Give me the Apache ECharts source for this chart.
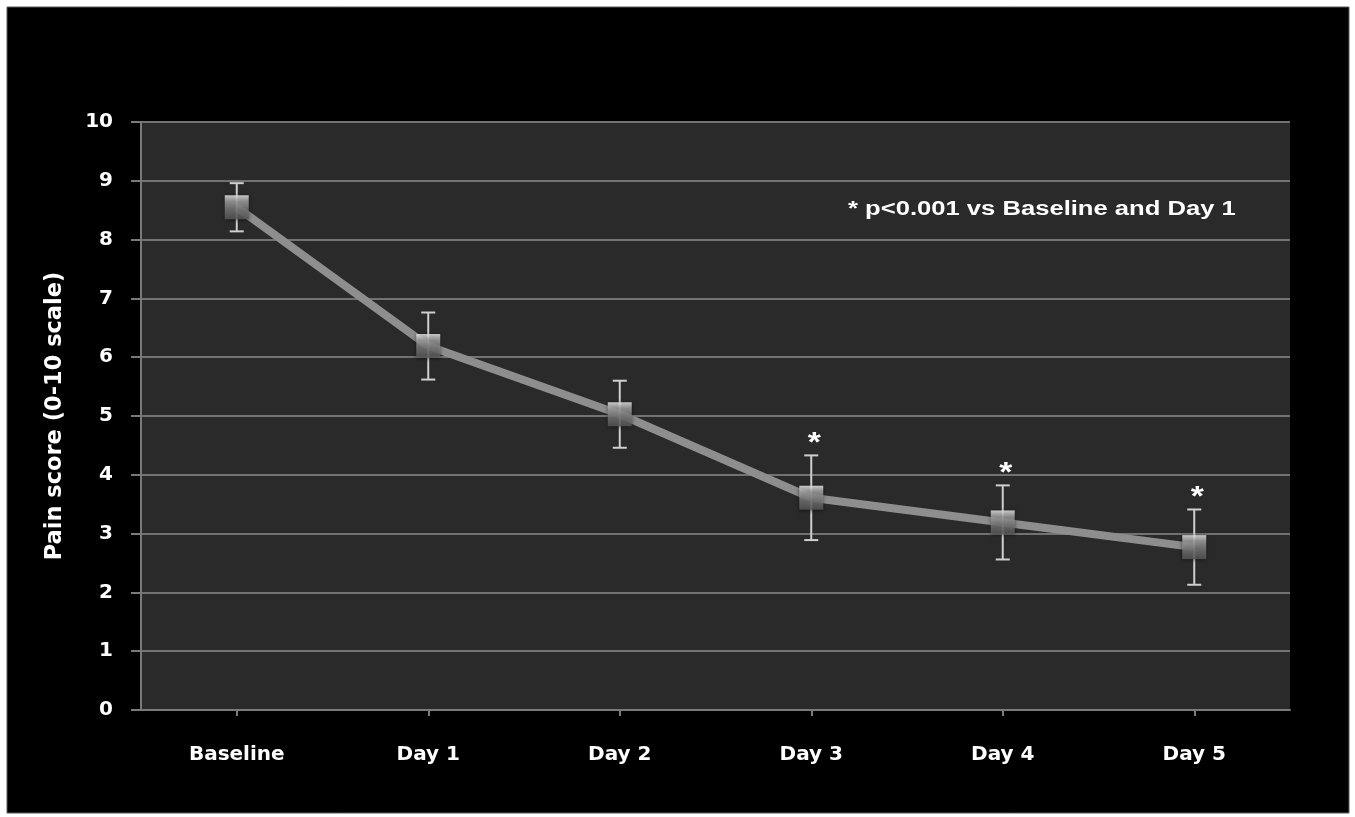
<!DOCTYPE html>
<html>
<head>
<meta charset="utf-8">
<title>Pain score over time</title>
<script src="https://cdn.jsdelivr.net/npm/echarts@6/dist/echarts.min.js"></script>
<style>
  html, body { margin: 0; padding: 0; background: #ffffff; }
  #chart { width: 1355px; height: 817px; }
</style>
</head>
<body>
<div id="chart"></div>
<script>
// Time points
const categories = ['Baseline', 'Day 1', 'Day 2', 'Day 3', 'Day 4', 'Day 5'];
// Mean pain score (0-10 scale)
const meanScores = [8.55, 6.19, 5.03, 3.61, 3.19, 2.77];
// Error bar half-length
const errors = [0.41, 0.57, 0.57, 0.72, 0.63, 0.64];
// 1 = significant vs Baseline and Day 1
const significant = [0, 0, 0, 1, 1, 1];
// Y axis ticks
const yMin = 0, yMax = 10, yStep = 1;

const labelFont = '"DejaVu Sans", Verdana, sans-serif';

const chart = echarts.init(document.getElementById('chart'));

const errorData = categories.map((c, i) => [i, meanScores[i], errors[i], significant[i]]);

function renderErrorBar(params, api) {
  const idx = api.value(0);
  const mean = api.value(1);
  const err = api.value(2);
  const sig = api.value(3);
  const top = api.coord([idx, mean + err]);
  const bottom = api.coord([idx, mean - err]);
  const cap = 7;
  const style = { stroke: '#cfcfcf', lineWidth: 2 };
  const children = [
    { type: 'line', shape: { x1: top[0], y1: top[1], x2: bottom[0], y2: bottom[1] }, style: style },
    { type: 'line', shape: { x1: top[0] - cap, y1: top[1], x2: top[0] + cap, y2: top[1] }, style: style },
    { type: 'line', shape: { x1: bottom[0] - cap, y1: bottom[1], x2: bottom[0] + cap, y2: bottom[1] }, style: style }
  ];
  if (sig) {
    // significance marker above the upper cap
    children.push({
      type: 'text',
      x: top[0] + 3, y: top[1] + 2,
      scaleX: 1.2,
      style: {
        text: '*', x: 0, y: 0,
        fill: '#ffffff', font: 'bold 28px "Liberation Sans", Arial, sans-serif',
        align: 'center', verticalAlign: 'bottom'
      }
    });
  }
  return { type: 'group', children: children };
}

const option = {
  backgroundColor: '#ffffff',
  animation: false,
  graphic: [
    {
      type: 'rect', z: -10, silent: true,
      shape: { x: 7, y: 7, width: 1342, height: 806 },
      style: { fill: '#000000', stroke: '#5a5a5a', lineWidth: 1 }
    },
    {
      type: 'text', z: 10,
      x: 848, y: 199,
      scaleX: 1.28,
      style: {
        text: '* p<0.001 vs Baseline and Day 1',
        x: 0, y: 0,
        fill: '#ffffff',
        font: 'bold 20px "Liberation Sans", Arial, sans-serif'
      }
    }
  ],
  grid: {
    left: 141, right: 65, top: 122, bottom: 107,
    show: true, backgroundColor: '#2a2a2a', borderWidth: 0
  },
  xAxis: {
    type: 'category',
    data: categories,
    boundaryGap: true,
    axisLine: { show: true, lineStyle: { color: '#7a7a7a', width: 2 } },
    axisTick: { show: true, alignWithLabel: true, length: 6, lineStyle: { color: '#7a7a7a', width: 2 } },
    axisLabel: {
      color: '#ffffff', fontFamily: labelFont, fontWeight: 'bold',
      fontSize: 20, margin: 35
    },
    splitLine: { show: false }
  },
  yAxis: {
    type: 'value',
    min: yMin, max: yMax, interval: yStep,
    name: 'Pain score (0-10 scale)',
    nameLocation: 'middle',
    nameGap: 74,
    nameRotate: 90,
    nameTextStyle: {
      color: '#ffffff', fontFamily: labelFont, fontWeight: 'bold', fontSize: 22.5
    },
    axisLine: { show: true, lineStyle: { color: '#7a7a7a', width: 2 } },
    axisTick: { show: true, inside: false, length: 10, lineStyle: { color: '#7a7a7a', width: 2 } },
    axisLabel: {
      color: '#ffffff', fontFamily: labelFont, fontWeight: 'bold',
      fontSize: 20, margin: 28
    },
    splitLine: { show: true, lineStyle: { color: '#727272', width: 2 } }
  },
  series: [
    {
      type: 'line',
      data: meanScores,
      z: 2,
      symbol: 'none',
      lineStyle: { color: '#8e8e8e', width: 8 }
    },
    {
      type: 'custom',
      z: 3,
      renderItem: renderErrorBar,
      data: errorData,
      encode: { x: 0, y: 1 }
    },
    {
      type: 'scatter',
      z: 4,
      data: meanScores,
      symbol: 'rect',
      symbolSize: 24,
      itemStyle: {
        color: new echarts.graphic.LinearGradient(0, 0, 0, 1, [
          { offset: 0, color: '#f2f2f2' },
          { offset: 0.25, color: '#a8a8a8' },
          { offset: 0.6, color: '#7a7a7a' },
          { offset: 1, color: '#585858' }
        ]),
        shadowColor: 'rgba(0,0,0,0.6)', shadowBlur: 4, shadowOffsetY: 1
      }
    }
  ]
};

chart.setOption(option);
</script>
</body>
</html>
